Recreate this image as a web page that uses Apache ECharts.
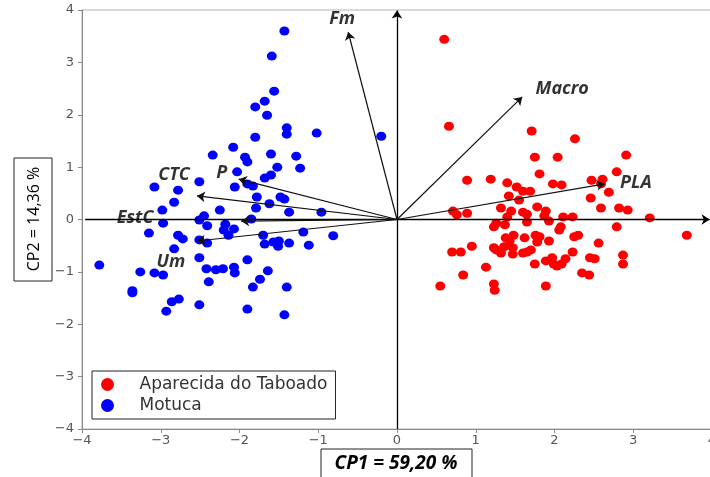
<!DOCTYPE html>
<html><head><meta charset="utf-8">
<script src="https://cdn.jsdelivr.net/npm/echarts@6/dist/echarts.min.js"></script>
<style>html,body{margin:0;padding:0;background:#fff}#c{width:710px;height:477px}</style>
</head><body><div id="c"></div>
<script>
// PCA scores (CP1, CP2)
const aparecidaPoints = [
[0.60,3.44],[0.66,1.78],[1.71,1.69],[2.26,1.54],[1.75,1.19],[2.04,1.19],[2.91,1.23],[1.81,0.87],[2.79,0.91],
[0.89,0.75],[1.19,0.77],[1.40,0.70],[1.98,0.68],[2.09,0.66],[2.47,0.75],[2.61,0.77],[2.59,0.68],[1.52,0.62],
[1.60,0.54],[1.69,0.54],[2.69,0.52],[1.42,0.45],[1.55,0.37],[2.46,0.41],[2.59,0.22],[2.82,0.22],[2.93,0.18],
[1.32,0.22],[1.45,0.16],[1.78,0.24],[1.89,0.16],[1.60,0.14],[1.65,0.10],[0.71,0.16],[0.76,0.09],[0.89,0.12],
[3.21,0.03],[1.87,0.07],[1.93,-0.03],[2.11,0.05],[2.23,0.05],[1.40,0.05],[1.65,-0.05],[1.26,-0.07],[1.23,-0.14],
[1.37,-0.10],[2.08,-0.14],[2.06,-0.20],[2.79,-0.14],[3.68,-0.30],[1.38,-0.35],[1.48,-0.30],[1.62,-0.35],[1.76,-0.30],
[1.81,-0.33],[1.78,-0.43],[1.93,-0.41],[2.25,-0.33],[2.30,-0.30],[2.56,-0.45],[0.95,-0.51],[1.23,-0.54],[1.26,-0.58],
[1.36,-0.52],[1.47,-0.54],[0.70,-0.62],[0.81,-0.62],[1.32,-0.64],[1.47,-0.66],[1.60,-0.64],[1.65,-0.62],[1.70,-0.58],
[2.23,-0.62],[2.87,-0.68],[1.13,-0.91],[1.75,-0.85],[1.89,-0.79],[1.97,-0.73],[1.99,-0.85],[2.03,-0.89],[2.09,-0.85],
[2.14,-0.75],[2.45,-0.73],[2.51,-0.75],[2.87,-0.85],[0.84,-1.06],[2.35,-1.02],[2.44,-1.06],[0.55,-1.27],[1.23,-1.23],
[1.24,-1.35],[1.89,-1.27],[1.43,-0.41]
];
const motucaPoints = [
[-1.43,3.60],[-1.59,3.12],[-1.56,2.45],[-1.68,2.26],[-1.80,2.15],[-1.65,1.99],[-1.40,1.75],[-1.40,1.63],[-1.02,1.65],
[-1.80,1.57],[-2.08,1.38],[-2.34,1.23],[-1.60,1.25],[-1.28,1.21],[-1.93,1.19],[-1.90,1.10],[-1.23,0.98],[-1.52,1.00],
[-2.03,0.91],[-1.60,0.85],[-1.68,0.79],[-2.51,0.72],[-3.08,0.62],[-2.78,0.56],[-2.06,0.62],[-1.90,0.68],[-1.83,0.64],
[-1.78,0.43],[-1.48,0.43],[-1.43,0.39],[-2.83,0.33],[-1.62,0.30],[-1.79,0.22],[-2.25,0.18],[-2.98,0.18],[-1.37,0.14],
[-0.96,0.14],[-1.85,0.01],[-2.45,0.07],[-2.51,-0.01],[-2.97,-0.07],[-2.41,-0.12],[-2.18,-0.09],[-2.07,-0.18],[-2.20,-0.20],
[-3.15,-0.26],[-1.19,-0.24],[-0.81,-0.31],[-1.70,-0.30],[-2.14,-0.30],[-2.78,-0.30],[-2.72,-0.37],[-2.51,-0.39],[-2.41,-0.45],
[-1.68,-0.47],[-1.57,-0.43],[-1.50,-0.41],[-1.51,-0.51],[-1.37,-0.45],[-1.12,-0.49],[-2.83,-0.56],[-2.51,-0.73],[-1.90,-0.77],
[-3.78,-0.87],[-3.26,-1.00],[-3.08,-1.02],[-2.97,-1.06],[-2.42,-0.94],[-2.30,-0.96],[-2.21,-0.94],[-2.07,-0.91],[-2.06,-1.02],
[-1.64,-0.98],[-2.39,-1.19],[-1.74,-1.14],[-1.83,-1.29],[-1.40,-1.29],[-3.36,-1.36],[-3.36,-1.40],[-2.77,-1.52],[-2.86,-1.57],
[-2.93,-1.75],[-2.51,-1.63],[-1.90,-1.71],[-1.43,-1.82],[-0.20,1.59]
];
// Variable loadings (arrow tips)
const loadingNames = ['Fm','Macro','PLA','P','CTC','EstC','Um'];
const loadingX = [-0.62, 1.59, 2.64, -2.01, -2.54, -1.98, -2.54];
const loadingY = [3.58, 2.34, 0.68, 0.77, 0.45, -0.03, -0.41];
const axisTicks = [-4,-3,-2,-1,0,1,2,3,4];

const labelOffsets = {Fm:[-6,-13], Macro:[40,-8], PLA:[31,-1], P:[-17,-6], CTC:[-23,-21], EstC:[-106,-3], Um:[-26,21]};

const chart = echarts.init(document.getElementById('c'), null, {renderer:'canvas'});
const fmt = v => String(v).replace('-', '\u2212');
const tickFont = {fontFamily:'DejaVu Sans', fontSize:13, color:'#555'};

const arrowData = loadingNames.map((n,i)=>({coords:[[0,0],[loadingX[i],loadingY[i]]]}));
const labelData = loadingNames.map((n,i)=>({
  value:[loadingX[i],loadingY[i]], name:n,
  label:{offset:labelOffsets[n]}
}));

chart.setOption({
  animation:false,
  backgroundColor:'#fff',
  grid:{left:82, right:-2, top:10, bottom:48, show:true, borderColor:'#b5b5b5', borderWidth:1,
    containLabel:false, outerBoundsMode:'none'},
  xAxis:{type:'value', min:axisTicks[0], max:axisTicks[axisTicks.length-1], interval:1,
    splitLine:{show:false},
    axisLine:{show:true, onZero:false, lineStyle:{color:'#888', width:1}},
    axisTick:{show:true, inside:false, length:4, lineStyle:{color:'#888'}},
    axisLabel:Object.assign({margin:5, formatter:fmt, showMaxLabel:true}, tickFont)},
  yAxis:{type:'value', min:axisTicks[0], max:axisTicks[axisTicks.length-1], interval:1,
    splitLine:{show:false},
    axisLine:{show:true, onZero:false, lineStyle:{color:'#888', width:1}},
    axisTick:{show:true, inside:false, length:4, lineStyle:{color:'#888'}},
    axisLabel:Object.assign({margin:8, formatter:fmt}, tickFont)},
  legend:{
    orient:'vertical', left:92, top:371,
    data:['Aparecida do Taboado','Motuca'],
    icon:'circle', itemWidth:30, itemHeight:13, itemGap:4,
    padding:[5,8,5,9],
    borderColor:'#222', borderWidth:1, backgroundColor:'#fff',
    textStyle:{fontFamily:'DejaVu Sans', fontSize:17, color:'#333', padding:[0,0,0,12]}
  },
  series:[
    {name:'Aparecida do Taboado', type:'scatter', data:aparecidaPoints, symbol:'circle', symbolSize:[10,9],
      itemStyle:{color:'#ff0000', opacity:1}, z:2},
    {name:'Motuca', type:'scatter', data:motucaPoints, symbol:'circle', symbolSize:[10,9],
      itemStyle:{color:'#0000ff', opacity:1}, z:2},
    {type:'lines', coordinateSystem:'cartesian2d', z:3, silent:true,
      data:[{coords:[[-3.96,0],[3.97,0]]},{coords:[[0,-4],[0,3.99]]}],
      symbol:['none','arrow'], symbolSize:[0,8],
      lineStyle:{color:'#000', width:1.3, opacity:1}},
    {type:'lines', coordinateSystem:'cartesian2d', z:3, silent:true,
      data:arrowData,
      symbol:['none','arrow'], symbolSize:[0,8],
      lineStyle:{color:'#111', width:1.2, opacity:1}},
    {type:'scatter', data:labelData, symbolSize:0, z:4, silent:true,
      label:{show:true, position:'inside', formatter:p=>p.name,
        fontFamily:'Open Sans', fontStyle:'italic', fontWeight:'bold', fontSize:18, color:'#000'}}
  ],
  graphic:[
    {type:'rect', shape:{x:321, y:449, width:151, height:40}, style:{fill:'#fff', stroke:'#222', lineWidth:1}, z:10},
    {type:'text', x:396, y:464, style:{text:'CP1 = 59,20 %', font:'italic bold 19px "Open Sans"', fill:'#000', align:'center', verticalAlign:'middle'}, z:11},
    {type:'rect', shape:{x:14, y:158, width:38, height:123}, style:{fill:'#fff', stroke:'#222', lineWidth:1}, z:10},
    {type:'text', x:34, y:219, rotation:Math.PI/2, style:{text:'CP2 = 14,36 %', font:'16px "Open Sans"', fill:'#000', align:'center', verticalAlign:'middle'}, z:11}
  ]
});
</script></body></html>
